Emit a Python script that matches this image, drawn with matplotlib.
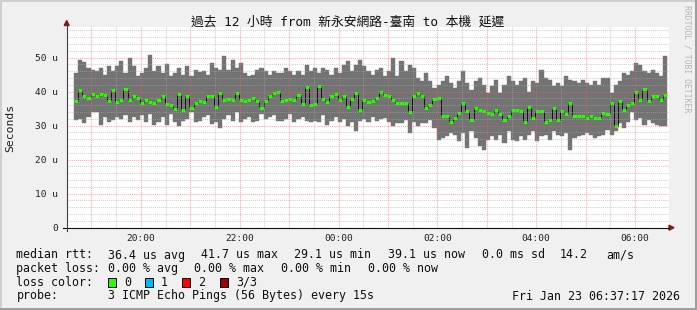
import matplotlib
matplotlib.use("Agg")
import matplotlib.pyplot as plt
from matplotlib.patches import Rectangle, Polygon
import numpy as np

# smoke (min..max) and median rtt per 5 minute step, in microseconds
max_rtt = [45.5, 49.4, 48.6, 47.0, 46.5, 46.0, 47.0, 45.0, 47.5, 46.0, 47.6, 48.9, 45.5, 50.0, 47.5, 44.5, 45.5, 47.0, 50.9, 46.0, 47.5, 45.5, 48.0, 44.5, 45.5,
           47.0, 45.0, 47.5, 44.5, 46.5, 45.7, 46.0, 45.0, 48.4, 47.0, 46.5, 50.4, 46.5, 49.4, 47.0, 48.4, 45.5, 44.5, 45.0, 46.5, 47.0, 46.0, 45.0, 46.0, 45.5,
           45.5, 47.0, 46.0, 45.0, 46.0, 45.0, 47.9, 46.0, 47.0, 45.5, 47.0, 46.5, 45.0, 47.0, 45.5, 47.9, 48.9, 46.0, 47.9, 49.4, 47.5, 46.0, 45.0, 46.5, 47.0,
           44.5, 46.0, 50.0, 44.5, 48.9, 46.0, 47.9, 47.0, 44.0, 43.0, 45.5, 43.0, 41.1, 42.0, 43.0, 44.5, 42.5, 41.1, 43.0, 46.0, 42.5, 40.5, 43.0, 44.0, 42.0,
           39.6, 41.6, 43.5, 39.6, 42.0, 44.5, 43.0, 42.0, 43.0, 44.0, 40.0, 43.0, 42.5, 46.3, 44.0, 43.5, 41.6, 42.5, 41.6, 44.5, 43.5, 43.0, 42.5, 43.5, 42.5,
           42.0, 43.0, 42.0, 44.0, 44.0, 39.6, 42.0, 43.0, 45.5, 45.0, 46.0, 48.4, 47.9, 46.0, 45.5, 46.5, 45.5, 44.5, 50.4]
min_rtt = [31.7, 32.0, 30.9, 32.5, 33.9, 34.0, 30.3, 32.5, 31.0, 31.7, 32.5, 32.0, 33.0, 31.0, 32.5, 31.7, 33.0, 31.0, 33.5, 30.3, 31.0, 32.5, 30.3, 33.5, 31.0,
           29.8, 31.5, 32.0, 33.9, 31.0, 31.5, 32.5, 33.0, 30.5, 31.0, 29.3, 32.0, 33.0, 31.5, 33.9, 31.0, 32.0, 32.5, 31.0, 31.5, 33.5, 32.0, 32.5, 33.0, 31.5,
           31.5, 32.0, 33.5, 31.0, 32.0, 32.5, 31.5, 31.0, 31.5, 31.0, 33.0, 30.3, 31.5, 32.5, 31.0, 32.0, 29.8, 31.0, 28.3, 31.5, 32.0, 31.0, 32.5, 31.5, 32.0,
           32.2, 31.2, 29.8, 30.8, 30.8, 31.7, 27.8, 31.2, 29.8, 30.8, 30.8, 31.7, 29.3, 25.9, 26.4, 26.9, 27.8, 27.3, 25.4, 27.8, 23.4, 28.3, 26.4, 23.9, 22.9,
           25.9, 26.9, 25.9, 27.3, 24.9, 28.3, 25.9, 25.4, 26.9, 25.9, 27.3, 28.3, 25.4, 26.9, 27.3, 25.9, 28.3, 27.3, 26.9, 27.8, 22.9, 26.4, 26.9, 27.3, 27.8,
           27.3, 26.4, 26.9, 27.3, 28.8, 27.3, 28.3, 30.8, 29.3, 31.2, 33.9, 31.7, 32.2, 30.3, 31.7, 30.8, 30.3, 29.8, 29.8]
median_rtt = [37.2, 40.4, 38.6, 38.1, 39.3, 38.6, 39.3, 38.9, 37.2, 40.6, 37.0, 37.6, 40.9, 37.6, 38.6, 38.1, 36.7, 37.6, 36.9, 36.7, 37.6, 38.6, 36.5, 36.0, 34.9,
              39.4, 34.7, 38.8, 35.2, 36.7, 37.2, 36.9, 38.6, 38.6, 35.6, 39.5, 37.5, 37.9, 37.5, 39.5, 37.5, 37.2, 37.5, 38.1, 37.2, 35.2, 37.2, 38.6, 39.5, 40.0,
              37.2, 37.6, 37.9, 37.4, 39.1, 36.5, 41.4, 36.2, 36.5, 41.6, 37.9, 36.9, 38.6, 39.4, 37.6, 38.6, 35.6, 37.9, 39.5, 34.7, 37.6, 36.9, 37.2, 38.1, 39.8,
              39.1, 38.6, 37.6, 36.7, 36.7, 36.7, 34.0, 38.6, 39.5, 38.6, 35.2, 36.2, 37.9, 38.1, 32.7, 32.7, 31.2, 32.2, 33.8, 36.7, 34.3, 31.7, 35.2, 34.7, 34.3,
              33.8, 33.3, 34.7, 33.3, 31.7, 32.7, 34.7, 34.7, 34.3, 31.2, 35.6, 32.2, 34.3, 34.3, 31.2, 31.7, 35.2, 31.7, 34.3, 33.3, 36.7, 32.7, 32.7, 32.7, 32.2,
              32.7, 32.3, 32.3, 33.8, 33.3, 36.7, 29.8, 37.2, 34.7, 36.2, 36.7, 40.0, 37.4, 40.8, 37.2, 38.8, 38.8, 37.6, 39.1]

# hours since 18:00
start_hour = 0.649
end_hour = 12.686
label_hours = [2, 4, 6, 8, 10, 12]
label_texts = ['20:00', '22:00', '00:00', '02:00', '04:00', '06:00']
y_ticks = [0, 10, 20, 30, 40, 50]
y_labels = ['0', '10 u', '20 u', '30 u', '40 u', '50 u']

loss_names = ['0', '1', '2', '3/3']
loss_colors = ['#26ff00', '#00b8ff', '#ff0000', '#a10000']

title = '過去 12 小時 from 新永安網路-臺南 to 本機 延遲'
rtt_items = ['median rtt:', '36.4 us avg', '41.7 us max', '29.1 us min', '39.1 us now',
             '0.0 ms sd', '14.2', 'am/s']
loss_items = ['packet loss:', '0.00 % avg', '0.00 % max', '0.00 % min', '0.00 % now']
probe_items = ['probe:', '3 ICMP Echo Pings (56 Bytes) every 15s']
stamp = 'Fri Jan 23 06:37:17 2026'

mono = 'DejaVu Sans Mono'
cjk = [mono, 'Noto Sans CJK TC']

W, H = 697, 310
fig = plt.figure(figsize=(W / 100, H / 100), dpi=100, facecolor='#f0f0f0')
ax = fig.add_axes([66.7 / W, (H - 227.7) / H, (669 - 66.7) / W, (227.7 - 27) / H])
ax.set_facecolor('white')

step = 1 / 12
x = start_hour + step * (np.arange(len(median_rtt)) + 0.5)
lo = np.array(min_rtt)
hi = np.array(max_rtt)
med = np.array(median_rtt)

ax.bar(x, hi - lo, bottom=lo, width=step, color='#737373', edgecolor='#737373',
       linewidth=0.3, zorder=1)
ax.step(x, med, where='mid', color='black', lw=0.6, zorder=2)
ax.hlines(med, x - step / 2, x + step / 2, color=loss_colors[0], lw=2.1, zorder=2.1)

ax.set_xlim(start_hour, end_hour)
ax.set_ylim(0, 59.0)

hours = np.arange(1, 13)
ax.set_xticks(hours, [label_texts[label_hours.index(h)] if h in label_hours else '' for h in hours])
ax.set_xticks(hours - 0.5, minor=True)
ax.set_yticks(y_ticks, y_labels)
ax.set_yticks(np.arange(2, 59, 2), minor=True)
ax.grid(which='major', color='#ff5f5f', alpha=0.55, lw=0.75, ls=(0, (1, 1)))
ax.grid(which='minor', color='#a8a8a8', alpha=0.55, lw=0.75, ls=(0, (1, 1)))
ax.set_axisbelow(False)
ax.tick_params(which='both', length=0)
ax.tick_params(axis='y', pad=6)
ax.tick_params(axis='x', pad=4.5)
for lab in ax.get_xticklabels() + ax.get_yticklabels():
    lab.set_fontfamily(mono)
    lab.set_fontsize(6.8)
    lab.set_color('#202020')
for s in ax.spines.values():
    s.set_visible(False)

# overlay in pixel coordinates for axes lines, text and frame
ov = fig.add_axes([0, 0, 1, 1])
ov.set_xlim(0, W)
ov.set_ylim(H, 0)
ov.axis('off')
ov.patch.set_alpha(0)

ov.plot([62.7, 669], [227.7, 227.7], color='#101010', lw=0.8)
ov.plot([66.7, 66.7], [231, 25], color='#404040', lw=0.8)
ov.add_patch(Polygon([[64.2, 25.5], [69.2, 25.5], [66.7, 20.5]], color='#7f1f1f'))
ov.add_patch(Polygon([[669, 225.2], [669, 230.2], [674, 227.7]], color='#7f1f1f'))

ov.text(348, 22, title, ha='center', va='center', fontsize=9.2, family=cjk, color='#101010')
ov.text(10, 127.5, 'Seconds', rotation=90, ha='center', va='center', fontsize=8.2,
        family=mono, color='#202020')
ov.text(687, 59, 'RRDTOOL / TOBI OETIKER', rotation=270, ha='center', va='center',
        fontsize=5.9, family=mono, color='#b5b5b5')

row_y = [255, 268.5, 282, 296]
txt_kw = dict(ha='left', va='center', fontsize=8.35, family=mono, color='#101010')

rtt_x = [16.4, 108, 201, 294.5, 388, 481.5, 560, 606]
for item, xx in zip(rtt_items, rtt_x):
    ov.text(xx, row_y[0], item, **txt_kw)
loss_x = [16.4, 108, 194.5, 281, 367.5]
for item, xx in zip(loss_items, loss_x):
    ov.text(xx, row_y[1], item, **txt_kw)
ov.text(16.4, row_y[2], 'loss color:', **txt_kw)
box_x = [108, 145, 182, 220]
for bx, name, c in zip(box_x, loss_names, loss_colors):
    ov.add_patch(Rectangle((bx, row_y[2] - 4.5), 8, 9, facecolor=c, edgecolor='black', lw=0.7))
    ov.text(bx + 16, row_y[2], name, **txt_kw)
for item, xx in zip(probe_items, [16.4, 108]):
    ov.text(xx, row_y[3], item, **txt_kw)
ov.text(680, row_y[3], stamp, ha='right', va='center', fontsize=8.35, family=mono, color='#101010')

# 3d frame
ov.add_patch(Rectangle((0, 0), W, 2, color='#cfcfcf', lw=0))
ov.add_patch(Rectangle((0, 0), 2, H, color='#cfcfcf', lw=0))
ov.add_patch(Rectangle((W - 2, 0), 2, H, color='#9e9e9e', lw=0))
ov.add_patch(Rectangle((0, H - 2), W, 2, color='#9e9e9e', lw=0))

fig.savefig('out.png', dpi=100, facecolor=fig.get_facecolor())
